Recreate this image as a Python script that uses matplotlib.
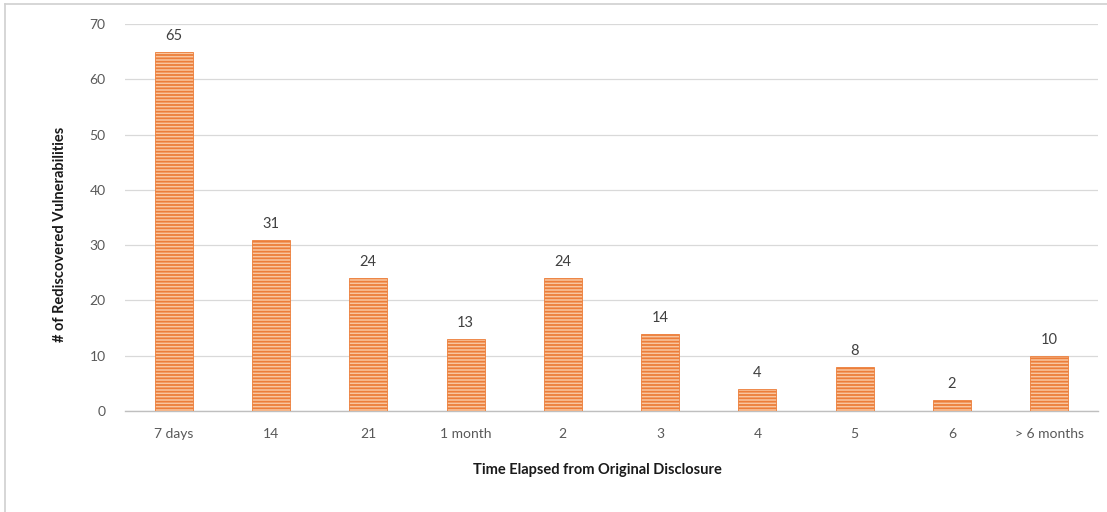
import matplotlib
matplotlib.use("Agg")
import matplotlib.pyplot as plt
from matplotlib.lines import Line2D

categories = ["7 days", "14", "21", "1 month", "2", "3", "4", "5", "6", "> 6 months"]
counts = [65, 31, 24, 13, 24, 14, 4, 8, 2, 10]
y_ticks = [0, 10, 20, 30, 40, 50, 60, 70]

plt.rcParams["font.family"] = ["Lato", "DejaVu Sans"]
plt.rcParams["hatch.linewidth"] = 1.3

W, H = 1107, 512
fig = plt.figure(figsize=(W / 100, H / 100), dpi=100)
ax = fig.add_axes([125 / W, 1 - 411 / H, (1098 - 125) / W, (411 - 24) / H])

x = range(len(categories))
bars = ax.bar(x, counts, width=0.39, facecolor="#F9C6A0", edgecolor="#EC7E3A",
              hatch="-----", linewidth=0.6, zorder=3)
for xi, v in zip(x, counts):
    ax.text(xi, v + 1.6, str(v), ha="center", va="bottom", fontsize=10.5, color="#404040")

ax.set_xlim(-0.5, len(categories) - 0.5)
ax.set_ylim(0, 70)
ax.set_yticks(y_ticks)
ax.set_xticks(list(x))
ax.set_xticklabels(categories)
ax.tick_params(axis="both", length=0, labelsize=10, labelcolor="#595959")
ax.tick_params(axis="x", pad=12)
ax.tick_params(axis="y", pad=14)
ax.yaxis.grid(True, color="#D9D9D9", linewidth=0.9, zorder=0)
for s in ["top", "right", "left"]:
    ax.spines[s].set_visible(False)
ax.spines["bottom"].set_color("#BFBFBF")
ax.spines["bottom"].set_linewidth(1.0)

fig.text(597 / W, 1 - 470 / H, "Time Elapsed from Original Disclosure", ha="center",
         va="center", fontsize=10.5, fontweight="bold", color="#1a1a1a")
fig.text(60 / W, 1 - 234 / H, "# of Rediscovered Vulnerabilities", ha="center",
         va="center", rotation=90, fontsize=10.5, fontweight="bold", color="#1a1a1a")

# light frame around the chart area
fig.add_artist(Line2D([5 / W, 5 / W], [0, 1 - 4 / H], transform=fig.transFigure,
                      color="#D0D0D0", linewidth=1.2))
fig.add_artist(Line2D([5 / W, 1], [1 - 4 / H, 1 - 4 / H], transform=fig.transFigure,
                      color="#D0D0D0", linewidth=1.2))

fig.savefig("out.png", dpi=100)
